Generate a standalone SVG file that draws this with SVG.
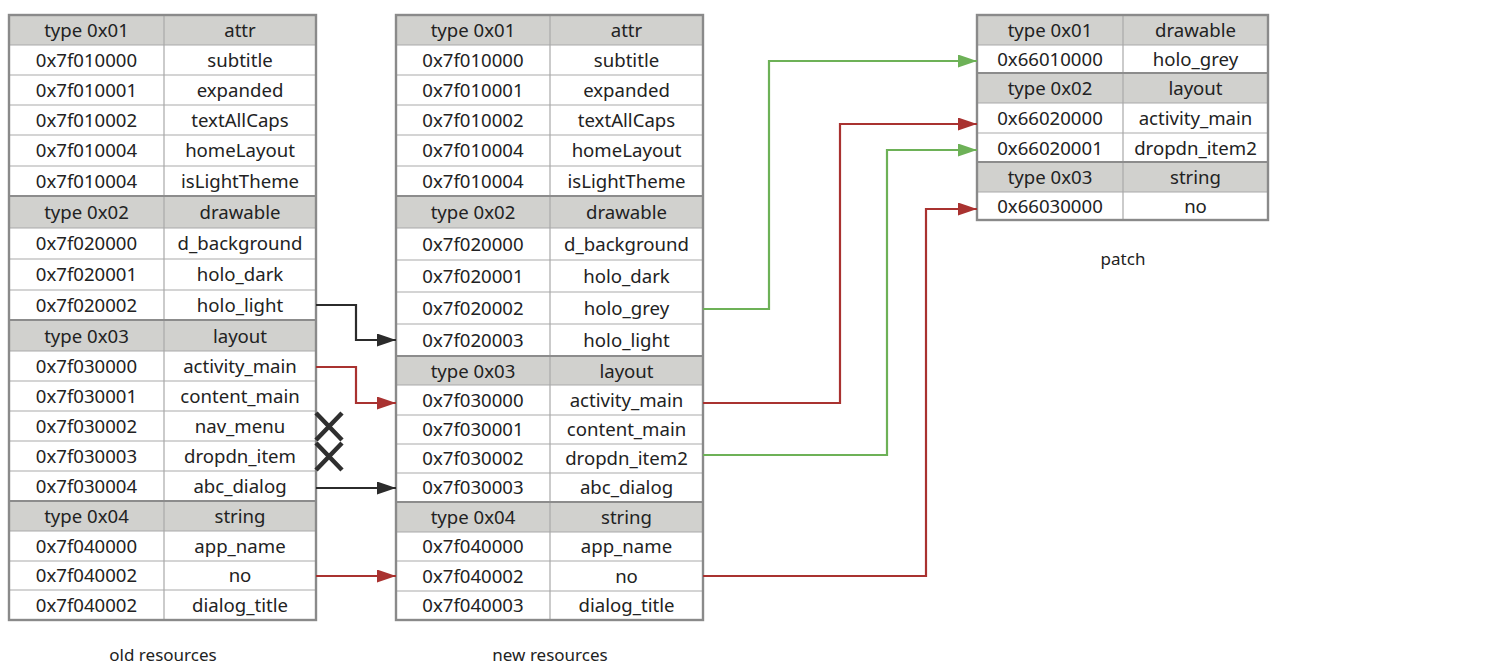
<svg xmlns="http://www.w3.org/2000/svg" width="1494" height="666" viewBox="0 0 1494 666">
  <style>
    .hdr { fill: #d1d1ce; }
    .cell { fill: #ffffff; }
    .grid { stroke: #a9a9a9; stroke-width: 1.2; fill: none; }
    .sep { stroke: #8c8c8c; stroke-width: 2.2; fill: none; }
    .frame { stroke: #8a8a8a; stroke-width: 2.4; fill: none; }
    text { font-family: "Noto Sans", "Open Sans", "Liberation Sans", sans-serif; fill: #222; }
    .t { font-size: 18.6px; text-anchor: middle; }
    .cap { font-size: 17px; text-anchor: middle; }
    .wire { fill: none; stroke-width: 2.2; }
    .k { stroke: #2b2b2b; }
    .r { stroke: #a93230; }
    .g { stroke: #6db157; }
    .cross { stroke: #2f2f2f; stroke-width: 4.5; stroke-linecap: butt; }
  </style>
  <defs>
    <marker id="ak" markerUnits="userSpaceOnUse" markerWidth="20" markerHeight="14" refX="19" refY="6.5" orient="auto">
      <path d="M0,0 L19,6.5 L0,13 z" fill="#2b2b2b"/>
    </marker>
    <marker id="ar" markerUnits="userSpaceOnUse" markerWidth="20" markerHeight="14" refX="19" refY="6.5" orient="auto">
      <path d="M0,0 L19,6.5 L0,13 z" fill="#a93230"/>
    </marker>
    <marker id="ag" markerUnits="userSpaceOnUse" markerWidth="20" markerHeight="14" refX="19" refY="6.5" orient="auto">
      <path d="M0,0 L19,6.5 L0,13 z" fill="#6db157"/>
    </marker>
  </defs>

  <rect width="1494" height="666" fill="#ffffff"/>

  <!-- old resource table -->
  <g id="old-resources">
    <rect class="cell" x="9" y="15" width="307" height="605"/>
    <rect class="hdr" x="9" y="15" width="307" height="30"/>
    <rect class="hdr" x="9" y="196" width="307" height="32"/>
    <rect class="hdr" x="9" y="320" width="307" height="31"/>
    <rect class="hdr" x="9" y="501" width="307" height="30"/>
    <path class="grid" d="M9,45H316M9,75H316M9,105H316M9,135H316M9,166H316M9,228H316M9,259H316M9,290H316M9,351H316M9,381H316M9,411H316M9,441H316M9,471H316M9,531H316M9,561H316M9,590H316M164,15V620"/>
    <path class="sep" d="M9,196H316M9,320H316M9,501H316"/>
    <rect class="frame" x="9" y="15" width="307" height="605"/>
    <g class="t">
      <text x="86.5" y="37">type 0x01</text><text x="240" y="37">attr</text>
      <text x="86.5" y="67">0x7f010000</text><text x="240" y="67">subtitle</text>
      <text x="86.5" y="97">0x7f010001</text><text x="240" y="97">expanded</text>
      <text x="86.5" y="127">0x7f010002</text><text x="240" y="127">textAllCaps</text>
      <text x="86.5" y="157">0x7f010004</text><text x="240" y="157">homeLayout</text>
      <text x="86.5" y="188">0x7f010004</text><text x="240" y="188">isLightTheme</text>
      <text x="86.5" y="219">type 0x02</text><text x="240" y="219">drawable</text>
      <text x="86.5" y="250">0x7f020000</text><text x="240" y="250">d_background</text>
      <text x="86.5" y="281">0x7f020001</text><text x="240" y="281">holo_dark</text>
      <text x="86.5" y="312">0x7f020002</text><text x="240" y="312">holo_light</text>
      <text x="86.5" y="343">type 0x03</text><text x="240" y="343">layout</text>
      <text x="86.5" y="373">0x7f030000</text><text x="240" y="373">activity_main</text>
      <text x="86.5" y="403">0x7f030001</text><text x="240" y="403">content_main</text>
      <text x="86.5" y="433">0x7f030002</text><text x="240" y="433">nav_menu</text>
      <text x="86.5" y="463">0x7f030003</text><text x="240" y="463">dropdn_item</text>
      <text x="86.5" y="493">0x7f030004</text><text x="240" y="493">abc_dialog</text>
      <text x="86.5" y="523">type 0x04</text><text x="240" y="523">string</text>
      <text x="86.5" y="553">0x7f040000</text><text x="240" y="553">app_name</text>
      <text x="86.5" y="582">0x7f040002</text><text x="240" y="582">no</text>
      <text x="86.5" y="612">0x7f040002</text><text x="240" y="612">dialog_title</text>
    </g>
    <text class="cap" x="163" y="661">old resources</text>
  </g>

  <!-- new resource table -->
  <g id="new-resources">
    <rect class="cell" x="396" y="15" width="307" height="605"/>
    <rect class="hdr" x="396" y="15" width="307" height="30"/>
    <rect class="hdr" x="396" y="196" width="307" height="32"/>
    <rect class="hdr" x="396" y="356" width="307" height="29"/>
    <rect class="hdr" x="396" y="502" width="307" height="30"/>
    <path class="grid" d="M396,45H703M396,75H703M396,105H703M396,135H703M396,166H703M396,228H703M396,260H703M396,292H703M396,324H703M396,385H703M396,415H703M396,444H703M396,473H703M396,532H703M396,561H703M396,591H703M550,15V620"/>
    <path class="sep" d="M396,196H703M396,356H703M396,502H703"/>
    <rect class="frame" x="396" y="15" width="307" height="605"/>
    <g class="t">
      <text x="473" y="37">type 0x01</text><text x="626.5" y="37">attr</text>
      <text x="473" y="67">0x7f010000</text><text x="626.5" y="67">subtitle</text>
      <text x="473" y="97">0x7f010001</text><text x="626.5" y="97">expanded</text>
      <text x="473" y="127">0x7f010002</text><text x="626.5" y="127">textAllCaps</text>
      <text x="473" y="157">0x7f010004</text><text x="626.5" y="157">homeLayout</text>
      <text x="473" y="188">0x7f010004</text><text x="626.5" y="188">isLightTheme</text>
      <text x="473" y="219">type 0x02</text><text x="626.5" y="219">drawable</text>
      <text x="473" y="251">0x7f020000</text><text x="626.5" y="251">d_background</text>
      <text x="473" y="283">0x7f020001</text><text x="626.5" y="283">holo_dark</text>
      <text x="473" y="315">0x7f020002</text><text x="626.5" y="315">holo_grey</text>
      <text x="473" y="347">0x7f020003</text><text x="626.5" y="347">holo_light</text>
      <text x="473" y="378">type 0x03</text><text x="626.5" y="378">layout</text>
      <text x="473" y="407">0x7f030000</text><text x="626.5" y="407">activity_main</text>
      <text x="473" y="436">0x7f030001</text><text x="626.5" y="436">content_main</text>
      <text x="473" y="465">0x7f030002</text><text x="626.5" y="465">dropdn_item2</text>
      <text x="473" y="494">0x7f030003</text><text x="626.5" y="494">abc_dialog</text>
      <text x="473" y="524">type 0x04</text><text x="626.5" y="524">string</text>
      <text x="473" y="553">0x7f040000</text><text x="626.5" y="553">app_name</text>
      <text x="473" y="583">0x7f040002</text><text x="626.5" y="583">no</text>
      <text x="473" y="612">0x7f040003</text><text x="626.5" y="612">dialog_title</text>
    </g>
    <text class="cap" x="550" y="661">new resources</text>
  </g>

  <!-- patch table -->
  <g id="patch">
    <rect class="cell" x="977" y="15" width="291" height="205"/>
    <rect class="hdr" x="977" y="15" width="291" height="30"/>
    <rect class="hdr" x="977" y="73" width="291" height="30"/>
    <rect class="hdr" x="977" y="162" width="291" height="30"/>
    <path class="grid" d="M977,45H1268M977,103H1268M977,133H1268M977,192H1268M1123,15V220"/>
    <path class="sep" d="M977,73H1268M977,162H1268"/>
    <rect class="frame" x="977" y="15" width="291" height="205"/>
    <g class="t">
      <text x="1050" y="37">type 0x01</text><text x="1195.5" y="37">drawable</text>
      <text x="1050" y="66">0x66010000</text><text x="1195.5" y="66">holo_grey</text>
      <text x="1050" y="95">type 0x02</text><text x="1195.5" y="95">layout</text>
      <text x="1050" y="125">0x66020000</text><text x="1195.5" y="125">activity_main</text>
      <text x="1050" y="155">0x66020001</text><text x="1195.5" y="155">dropdn_item2</text>
      <text x="1050" y="184">type 0x03</text><text x="1195.5" y="184">string</text>
      <text x="1050" y="213">0x66030000</text><text x="1195.5" y="213">no</text>
    </g>
    <text class="cap" x="1123" y="265">patch</text>
  </g>

  <!-- removed entries -->
  <g id="removed">
    <path class="cross" d="M316,413L342,440M342,413L316,440"/>
    <path class="cross" d="M316,443L342,470M342,443L316,470"/>
  </g>

  <!-- connectors -->
  <g id="connectors">
    <path class="wire k" d="M316,305H356V340H396" marker-end="url(#ak)"/>
    <path class="wire r" d="M316,367H356V403H396" marker-end="url(#ar)"/>
    <path class="wire k" d="M316,488H396" marker-end="url(#ak)"/>
    <path class="wire r" d="M316,576H396" marker-end="url(#ar)"/>
    <path class="wire g" d="M703,309H769V61H977" marker-end="url(#ag)"/>
    <path class="wire r" d="M703,403H840V124H977" marker-end="url(#ar)"/>
    <path class="wire g" d="M703,455H887V150H977" marker-end="url(#ag)"/>
    <path class="wire r" d="M703,576H926V209H977" marker-end="url(#ar)"/>
  </g>
</svg>
